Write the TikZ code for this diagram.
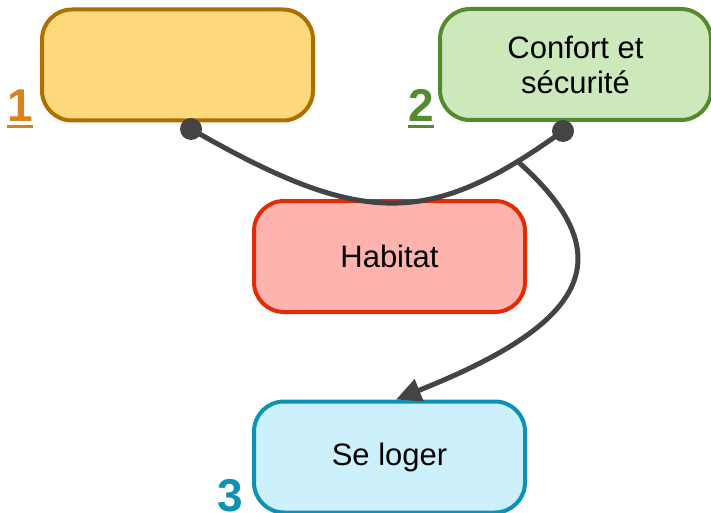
\documentclass[tikz,border=0pt]{standalone}
\usepackage{fontspec}
\setmainfont{Liberation Sans}
\usetikzlibrary{arrows.meta}
\definecolor{yellowfill}{HTML}{FDD87C}
\definecolor{yellowdraw}{HTML}{AF6F00}
\definecolor{greenfill}{HTML}{CDE8BA}
\definecolor{greendraw}{HTML}{558B2F}
\definecolor{redfill}{HTML}{FFB3AE}
\definecolor{reddraw}{HTML}{E52B05}
\definecolor{bluefill}{HTML}{CCF0FC}
\definecolor{bluedraw}{HTML}{0B92B6}
\definecolor{numorange}{HTML}{D8821E}
\definecolor{linkgray}{HTML}{444444}
\newcommand\ulnum[1]{\vtop{\hbox{#1}\kern3pt\hrule height 3pt}}
\begin{document}
\begin{tikzpicture}[x=1pt, y=-1pt,
box/.style={rectangle, rounded corners=30pt, line width=4pt, minimum width=271pt, minimum height=111pt, align=center, font=\fontsize{31}{35}\selectfont},
number/.style={anchor=base west, inner sep=0pt, font=\fontsize{46}{50}\selectfont\bfseries},
dot/.style={circle, fill=linkgray, inner sep=0pt, minimum size=22pt},
link/.style={draw=linkgray, line width=5pt},
]
\useasboundingbox (0,0) rectangle (711,513);
\node[box] [draw=yellowdraw, fill=yellowfill] (besoin) at (177.5,65) {};
\node[box] [draw=greendraw, fill=greenfill] (confort) at (575.5,64.5) {Confort et\\sécurité};
\node[box] [draw=reddraw, fill=redfill] (habitat) at (389.5,256.5) {Habitat};
\node[box] [draw=bluedraw, fill=bluefill] (loger) at (389.5,457) {Se loger};
\node[number] [text=numorange] (n1) at (7,122) {\ulnum{1}};
\node[number] [text=greendraw] (n2) at (408,122) {\ulnum{2}};
\node[number] [text=bluedraw] (n3) at (217,511) {3};
\node[dot] (d1) at (191,129) {};
\node[dot] (d2) at (563,131) {};
\draw[link]
(d1.center) .. controls (363,228) and (430,227) .. (d2.center) coordinate[pos=0.88] (br);
\draw[link, -{Triangle[length=25pt, width=23pt]}]
(br) .. controls (635,265) and (570,330) .. ([xshift=6.5pt]loger.north);
\end{tikzpicture}
\end{document}
